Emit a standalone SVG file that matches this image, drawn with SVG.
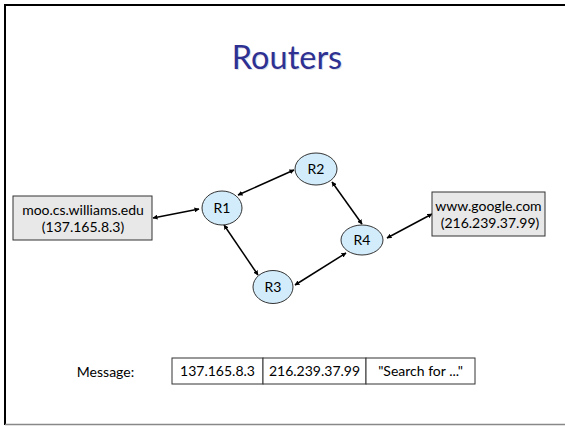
<svg xmlns="http://www.w3.org/2000/svg" width="565" height="426" viewBox="0 0 565 426">
<defs>
<style>
.t{font-family:"Lato","Liberation Sans",sans-serif;font-size:14px;fill:#000;text-anchor:middle}
.router ellipse{fill:#d2ecfb;stroke:#333;stroke-width:1}
.host rect{fill:#e8e8e8;stroke:#333;stroke-width:1}
.conn line{stroke:#000;stroke-width:1.5;marker-start:url(#ah);marker-end:url(#ah)}
.cell{fill:#fff;stroke:#333;stroke-width:1}
</style>
<marker id="ah" viewBox="0 0 10 10" refX="9" refY="5" markerWidth="5" markerHeight="5" orient="auto-start-reverse" markerUnits="userSpaceOnUse">
<path d="M0,0 L10,5 L0,10 z" fill="#000"/>
</marker>
</defs>
<rect width="565" height="426" fill="#fff"/>
<line x1="5" y1="5" x2="565" y2="5" stroke="#000" stroke-width="2"/>
<line x1="5" y1="4" x2="5" y2="425" stroke="#000" stroke-width="2"/>
<line x1="5" y1="424.5" x2="565" y2="424.5" stroke="#888" stroke-width="1.5"/>
<text x="288" y="70" font-family="Lato,'Liberation Sans',sans-serif" font-size="32.5" fill="#e0e0e8" text-anchor="middle">Routers</text>
<text x="287" y="69" font-family="Lato,'Liberation Sans',sans-serif" font-size="32.5" fill="#2e3192" text-anchor="middle">Routers</text>
<g id="connectors" class="conn">
<line x1="153" y1="218" x2="199" y2="209"/>
<line x1="238" y1="195" x2="294" y2="170"/>
<line x1="224" y1="225" x2="258" y2="275"/>
<line x1="332" y1="182" x2="362" y2="224"/>
<line x1="295" y1="285" x2="346" y2="253"/>
<line x1="387" y1="238" x2="432" y2="214"/>
</g>
<g id="host-moo" class="host">
<rect x="13" y="196" width="139" height="44"/>
<text class="t" x="83" y="215">moo.cs.williams.edu</text>
<text class="t" x="83" y="232">(137.165.8.3)</text>
</g>
<g id="host-google" class="host">
<rect x="432" y="192" width="113" height="44"/>
<text class="t" x="488.5" y="211">www.google.com</text>
<text class="t" x="490" y="228">(216.239.37.99)</text>
</g>
<g id="R1" class="router">
<ellipse cx="222" cy="208" rx="20" ry="17"/>
<text class="t" x="222" y="213">R1</text>
</g>
<g id="R2" class="router">
<ellipse cx="316" cy="169" rx="21" ry="16"/>
<text class="t" x="316" y="174">R2</text>
</g>
<g id="R3" class="router">
<ellipse cx="273" cy="287" rx="20" ry="16.5"/>
<text class="t" x="273" y="292">R3</text>
</g>
<g id="R4" class="router">
<ellipse cx="362" cy="240" rx="21" ry="15"/>
<text class="t" x="362" y="245">R4</text>
</g>
<g id="message">
<text class="t" x="105.5" y="377">Message:</text>
<rect class="cell" x="172" y="358" width="91" height="26"/>
<rect class="cell" x="263" y="358" width="103" height="26"/>
<rect class="cell" x="366" y="358" width="109" height="26"/>
<text class="t" x="217.5" y="376">137.165.8.3</text>
<text class="t" x="314.5" y="376">216.239.37.99</text>
<text class="t" x="420.5" y="376">"Search for ..."</text>
</g>
</svg>
